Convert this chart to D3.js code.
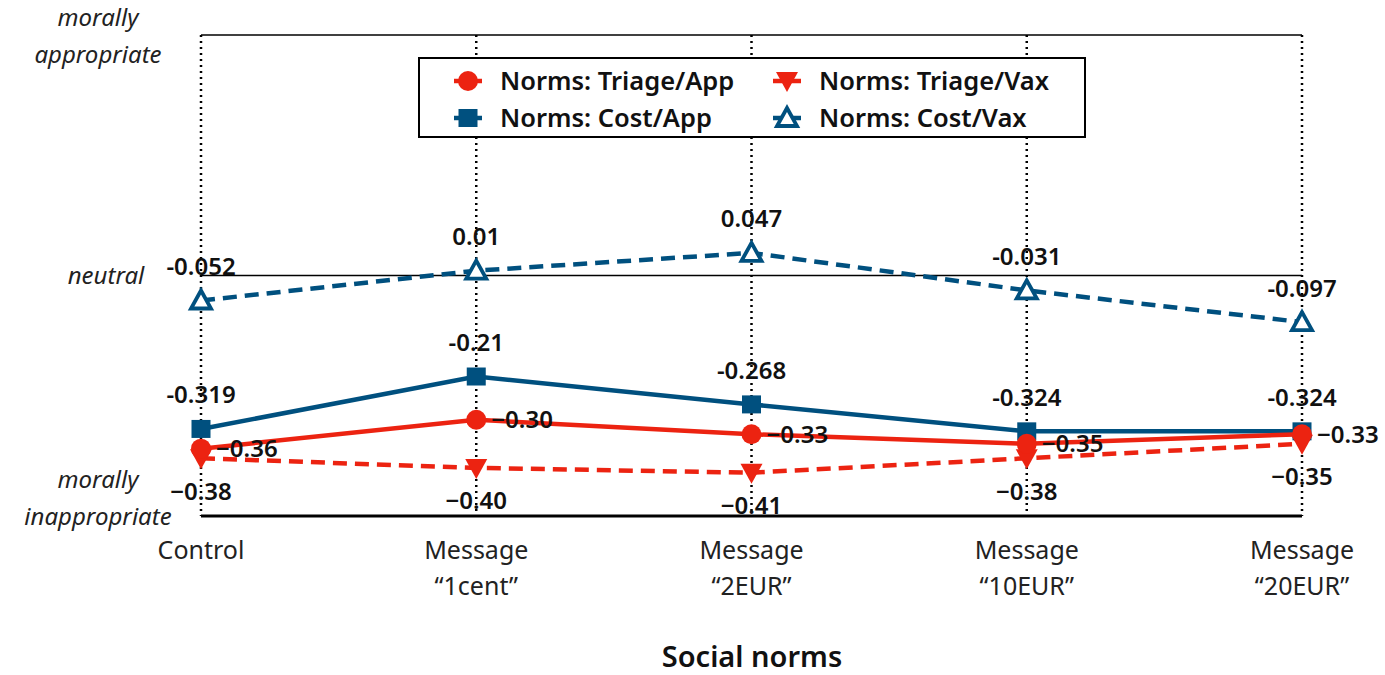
<!DOCTYPE html>
<html>
<head>
<meta charset="utf-8">
<script src="https://cdn.jsdelivr.net/npm/d3@7"></script>
<style>
  body { margin: 0; background: #fff; }
  text { font-family: "Noto Sans", "Open Sans", sans-serif; }
</style>
</head>
<body>
<svg width="1385" height="675"></svg>
<script>
var categories = ['Control', 'Message\n\u201C1cent\u201D', 'Message\n\u201C2EUR\u201D', 'Message\n\u201C10EUR\u201D', 'Message\n\u201C20EUR\u201D'];

var triageApp = [-0.36, -0.30, -0.33, -0.35, -0.33];
var triageVax = [-0.38, -0.40, -0.41, -0.38, -0.35];
var costApp = [-0.319, -0.21, -0.268, -0.324, -0.324];
var costVax = [-0.052, 0.01, 0.047, -0.031, -0.097];

var yLevels = [0.5, 0, -0.5];
var yLevelLabels = ['morally\nappropriate', 'neutral', 'morally\ninappropriate'];

var red = '#ec2311', blue = '#00507f';

var svg = d3.select('svg'),
  width = +svg.attr('width'),
  height = +svg.attr('height');

var x = d3.scalePoint().domain(d3.range(categories.length)).range([201, 1302]);
var y = d3.scaleLinear().domain([-0.5, 0.5]).range([516, 35]);

var fmt2 = d3.format('.2f');

var series = [
  { name: 'Norms: Triage/Vax', values: triageVax, color: red, dash: '14,8', symbol: 'down', label: 'below', fmt: fmt2 },
  { name: 'Norms: Cost/Vax', values: costVax, color: blue, dash: '14,8', symbol: 'up', label: 'above', fmt: String },
  { name: 'Norms: Cost/App', values: costApp, color: blue, dash: null, symbol: 'square', label: 'above', fmt: String },
  { name: 'Norms: Triage/App', values: triageApp, color: red, dash: null, symbol: 'circle', label: 'right', fmt: fmt2 }
];

/* ---
GRID AND AXES
--- */
svg.selectAll('.vgrid')
  .data(d3.range(categories.length))
  .enter()
  .append('line')
  .attr('x1', function(d) { return x(d); })
  .attr('x2', function(d) { return x(d); })
  .attr('y1', y(0.5))
  .attr('y2', y(-0.5))
  .attr('stroke', '#000')
  .attr('stroke-width', 2.5)
  .attr('stroke-dasharray', '2,4');

svg.selectAll('.hline')
  .data(yLevels)
  .enter()
  .append('line')
  .attr('x1', x(0))
  .attr('x2', x(categories.length - 1))
  .attr('y1', function(d) { return y(d); })
  .attr('y2', function(d) { return y(d); })
  .attr('stroke', '#000')
  .attr('stroke-width', function(d) { return d === -0.5 ? 3 : 1.3; });

// y level labels (italic, left of the plot)
var levelOffsets = [-17, 0, -36];
yLevelLabels.forEach(function(lbl, i) {
  var lines = lbl.split('\n');
  var lx = lines.length > 1 ? 98 : 106;
  var t = svg.append('text')
    .attr('text-anchor', 'middle')
    .attr('font-style', 'italic')
    .attr('font-size', 24)
    .attr('fill', '#222');
  var y0 = y(yLevels[i]) + levelOffsets[i];
  lines.forEach(function(l, j) {
    t.append('tspan')
      .attr('x', lx)
      .attr('y', y0 + j * 37)
      .attr('dy', '0.35em')
      .text(l);
  });
});

// x tick labels
categories.forEach(function(c, i) {
  var lines = c.split('\n');
  var t = svg.append('text')
    .attr('text-anchor', 'middle')
    .attr('font-size', 25)
    .attr('fill', '#222');
  lines.forEach(function(l, j) {
    t.append('tspan')
      .attr('x', x(i))
      .attr('y', 550 + j * 36)
      .attr('dy', '0.35em')
      .text(l);
  });
});

svg.append('text')
  .attr('x', 752)
  .attr('y', 657)
  .attr('dy', '0.35em')
  .attr('text-anchor', 'middle')
  .attr('font-size', 29)
  .attr('font-weight', 600)
  .attr('fill', '#111')
  .text('Social norms');

/* ---
SYMBOLS
--- */
function drawSymbol(g, type, color, cx, cy) {
  if (type === 'circle') {
    g.append('circle').attr('cx', cx).attr('cy', cy).attr('r', 10).attr('fill', color);
  } else if (type === 'square') {
    g.append('rect').attr('x', cx - 9.5).attr('y', cy - 9).attr('width', 19).attr('height', 18).attr('fill', color);
  } else if (type === 'down') {
    g.append('path')
      .attr('d', 'M' + (cx - 11) + ',' + (cy - 9) + 'L' + (cx + 11) + ',' + (cy - 9) + 'L' + cx + ',' + (cy + 11) + 'Z')
      .attr('fill', color);
  } else if (type === 'up') {
    g.append('path')
      .attr('d', 'M' + (cx - 10) + ',' + (cy + 8) + 'L' + (cx + 10) + ',' + (cy + 8) + 'L' + cx + ',' + (cy - 10) + 'Z')
      .attr('fill', '#fff')
      .attr('stroke', color)
      .attr('stroke-width', 3.8)
      .attr('stroke-linejoin', 'miter');
  }
}

/* ---
SERIES
--- */
var line = d3.line()
  .x(function(d, i) { return x(i); })
  .y(function(d) { return y(d); });

series.forEach(function(s) {
  var g = svg.append('g');
  g.append('path')
    .datum(s.values)
    .attr('d', line)
    .attr('fill', 'none')
    .attr('stroke', s.color)
    .attr('stroke-width', 4.5)
    .attr('stroke-dasharray', s.dash);
  s.values.forEach(function(v, i) {
    drawSymbol(g, s.symbol, s.color, x(i), y(v));
  });
});

// value labels on top
series.forEach(function(s) {
  svg.append('g')
    .selectAll('text')
    .data(s.values)
    .enter()
    .append('text')
    .attr('font-size', 24)
    .attr('font-weight', 600)
    .attr('fill', '#111')
    .attr('text-anchor', s.label === 'right' ? 'start' : 'middle')
    .attr('x', function(d, i) { return s.label === 'right' ? x(i) + 15 : x(i); })
    .attr('y', function(d) {
      if (s.label === 'above') return y(d) - 34;
      if (s.label === 'below') return y(d) + 33;
      return y(d);
    })
    .attr('dy', '0.35em')
    .text(function(d) { return s.fmt(d); });
});

/* ---
LEGEND
--- */
var legend = svg.append('g');
legend.append('rect')
  .attr('x', 419)
  .attr('y', 58)
  .attr('width', 666)
  .attr('height', 79)
  .attr('fill', '#fff')
  .attr('stroke', '#000')
  .attr('stroke-width', 2);

var legendOrder = [3, 0, 2, 1];
legendOrder.forEach(function(k, j) {
  var s = series[k];
  var col = j % 2, row = Math.floor(j / 2);
  var sx = col === 0 ? 468 : 787;
  var sy = 81 + row * 37;
  legend.append('line')
    .attr('x1', sx - 14).attr('x2', sx + 14)
    .attr('y1', sy).attr('y2', sy)
    .attr('stroke', s.color)
    .attr('stroke-width', 4.5);
  drawSymbol(legend, s.symbol, s.color, sx, sy);
  legend.append('text')
    .attr('x', sx + 32)
    .attr('y', sy)
    .attr('dy', '0.35em')
    .attr('font-size', 25.5)
    .attr('font-weight', 600)
    .attr('fill', '#111')
    .text(s.name);
});
</script>
</body>
</html>
